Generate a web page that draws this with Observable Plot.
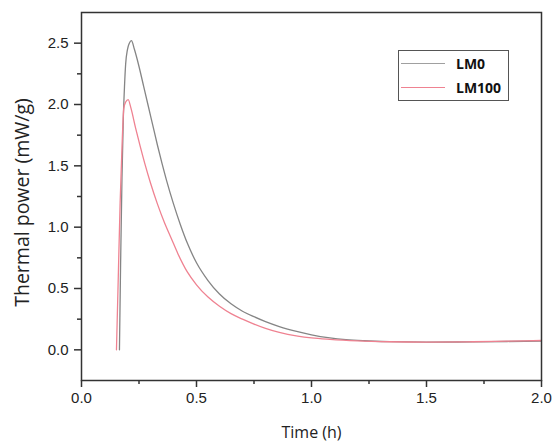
<!DOCTYPE html>
<html>
<head>
<meta charset="utf-8">
<script src="https://cdn.jsdelivr.net/npm/d3@7"></script>
<script src="https://cdn.jsdelivr.net/npm/@observablehq/plot@0.6"></script>
<style>
  html, body { margin: 0; padding: 0; background: white; }
  #wrap { position: relative; width: 552px; height: 444px; overflow: hidden; }
  #legend { position: absolute; left: 398px; top: 50px; width: 111px; height: 51px;
            box-sizing: border-box; border: 1.2px solid #555; background: white;
            font-family: "Open Sans", sans-serif; font-weight: 700; font-size: 14px; color: #111; }
  .item { position: absolute; left: 0; height: 20px; width: 100%; }
  .swatch { position: absolute; left: 2px; width: 44px; top: 9px; height: 0; border-top: 1.3px solid; }
  .lab { position: absolute; left: 57px; top: 0; line-height: 20px; }
</style>
</head>
<body>
<div id="wrap"><div id="legend"></div></div>
<script>
// ---- data ----
const seriesNames = ["LM0", "LM100"];
const seriesColors = ["#858585", "#ef8291"];

const lm0Time = [0.165, 0.170, 0.176, 0.182, 0.187, 0.192, 0.200, 0.208, 0.217, 0.230, 0.250, 0.270, 0.290, 0.310, 0.330, 0.350, 0.370, 0.400, 0.430, 0.460, 0.500, 0.550, 0.600, 0.650, 0.700, 0.750, 0.800, 0.860, 0.940, 1.000, 1.080, 1.150, 1.230, 1.340, 1.500, 1.700, 1.850, 2.000];
const lm0Power = [0.00, 0.70, 1.40, 1.90, 2.15, 2.33, 2.45, 2.50, 2.52, 2.45, 2.31, 2.15, 1.99, 1.83, 1.67, 1.52, 1.38, 1.19, 1.02, 0.87, 0.71, 0.565, 0.455, 0.375, 0.315, 0.27, 0.23, 0.19, 0.148, 0.122, 0.097, 0.083, 0.074, 0.067, 0.063, 0.065, 0.068, 0.072];

const lm100Time = [0.152, 0.160, 0.168, 0.176, 0.184, 0.192, 0.203, 0.215, 0.235, 0.255, 0.275, 0.300, 0.330, 0.360, 0.390, 0.420, 0.460, 0.500, 0.550, 0.600, 0.650, 0.700, 0.750, 0.800, 0.860, 0.940, 1.000, 1.080, 1.200, 1.340, 1.500, 1.700, 1.850, 2.000];
const lm100Power = [0.00, 0.60, 1.20, 1.65, 1.97, 2.02, 2.04, 1.97, 1.81, 1.66, 1.52, 1.36, 1.19, 1.04, 0.91, 0.78, 0.635, 0.53, 0.43, 0.355, 0.295, 0.25, 0.21, 0.175, 0.142, 0.112, 0.097, 0.085, 0.073, 0.066, 0.063, 0.066, 0.071, 0.076];

const xMajorTicks = [0, 0.5, 1.0, 1.5, 2.0];
const xMinorTicks = [0.25, 0.75, 1.25, 1.75];
const yMajorTicks = [0, 0.5, 1.0, 1.5, 2.0, 2.5];
const yMinorTicks = [0.25, 0.75, 1.25, 1.75, 2.25];
const xTitle = "Time (h)";
const yTitle = "Thermal power (mW/g)";

// ---- table ----
const rows = [
  ...lm0Time.map((t, i) => ({series: seriesNames[0], t, p: lm0Power[i]})),
  ...lm100Time.map((t, i) => ({series: seriesNames[1], t, p: lm100Power[i]}))
];

const fmt = d3.format(".1f");
const axisColor = "#333";

const chart = Plot.plot({
  width: 552,
  height: 444,
  marginLeft: 81,
  marginRight: 11,
  marginTop: 12,
  marginBottom: 64,
  style: {fontFamily: "'Liberation Sans', Arial, sans-serif", fontSize: "15px", color: "#222", background: "white"},
  x: {domain: [0, 2]},
  y: {domain: [-0.25, 2.75]},
  color: {domain: seriesNames, range: seriesColors},
  marks: [
    Plot.line(rows, {x: "t", y: "p", z: "series", stroke: "series", strokeWidth: 1.3, curve: "monotone-x"}),
    Plot.frame({stroke: axisColor, strokeWidth: 1.5}),
    Plot.axisX(xMajorTicks, {tickSize: 7, tickPadding: 5, tickFormat: fmt, label: null, stroke: axisColor, strokeWidth: 1.5}),
    Plot.axisX(xMinorTicks, {tickSize: 4, tickFormat: () => "", label: null, stroke: axisColor, strokeWidth: 1.5}),
    Plot.axisY(yMajorTicks, {tickSize: 7, tickPadding: 6, tickFormat: fmt, label: null, stroke: axisColor, strokeWidth: 1.5}),
    Plot.axisY(yMinorTicks, {tickSize: 4, tickFormat: () => "", label: null, stroke: axisColor, strokeWidth: 1.5}),
    Plot.text([xTitle], {frameAnchor: "bottom", dy: 52, lineAnchor: "middle", textAnchor: "middle", fontSize: 16, fontFamily: "'Open Sans', sans-serif", fill: "#222"}),
    Plot.text([yTitle], {frameAnchor: "left", dx: -59, dy: 6, rotate: -90, lineAnchor: "middle", textAnchor: "middle", fontSize: 19.5, fontFamily: "'Open Sans', sans-serif", fill: "#222"})
  ]
});

const wrap = document.getElementById("wrap");
wrap.insertBefore(chart, wrap.firstChild);

// ---- legend ----
const legend = document.getElementById("legend");
seriesNames.forEach((name, i) => {
  const item = document.createElement("div");
  item.className = "item";
  item.style.top = (3 + i * 24) + "px";
  const sw = document.createElement("div");
  sw.className = "swatch";
  sw.style.borderTopColor = i === 0 ? "#a0a0a0" : seriesColors[i];
  const lab = document.createElement("div");
  lab.className = "lab";
  lab.textContent = name;
  item.appendChild(sw);
  item.appendChild(lab);
  legend.appendChild(item);
});
</script>
</body>
</html>
